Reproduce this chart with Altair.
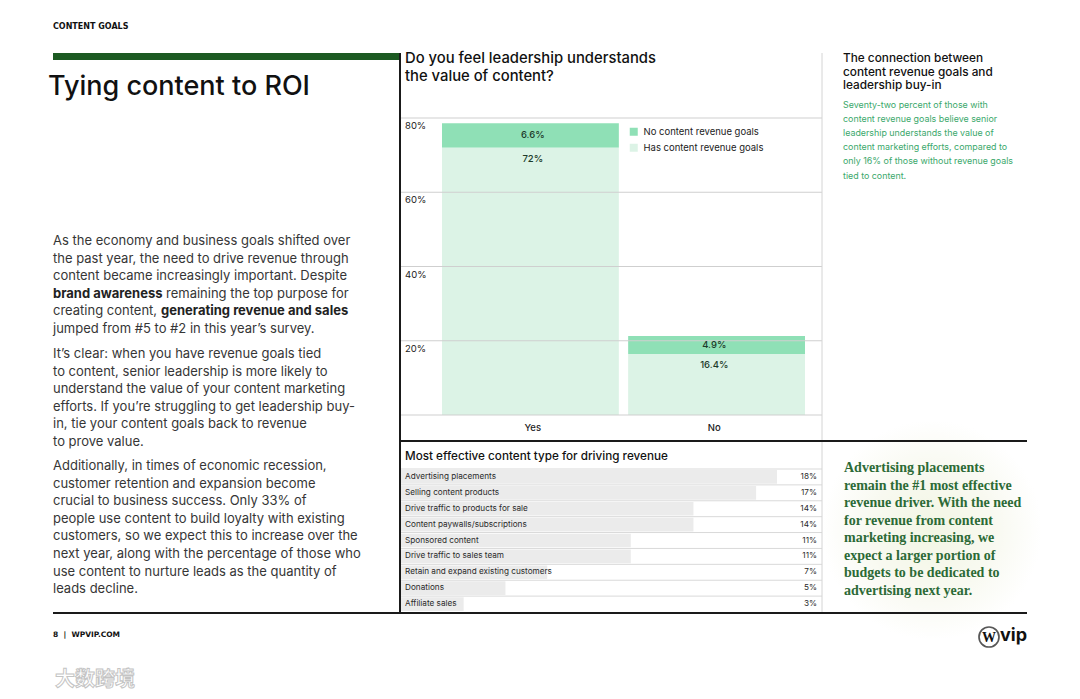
import altair as alt
import pandas as pd

# ---------------- data ----------------
SECTION = "CONTENT GOALS"
TITLE = "Tying content to ROI"

P1 = [
    "As the economy and business goals shifted over",
    "the past year, the need to drive revenue through",
    "content became increasingly important. Despite",
    "brand awareness remaining the top purpose for",
    "creating content, generating revenue and sales",
    "jumped from #5 to #2 in this year’s survey.",
]
BOLD = ["brand awareness", "generating revenue and sales"]
P2 = [
    "It’s clear: when you have revenue goals tied",
    "to content, senior leadership is more likely to",
    "understand the value of your content marketing",
    "efforts. If you’re struggling to get leadership buy-",
    "in, tie your content goals back to revenue",
    "to prove value.",
]
P3 = [
    "Additionally, in times of economic recession,",
    "customer retention and expansion become",
    "crucial to business success. Only 33% of",
    "people use content to build loyalty with existing",
    "customers, so we expect this to increase over the",
    "next year, along with the percentage of those who",
    "use content to nurture leads as the quantity of",
    "leads decline.",
]

Q_TITLE = ["Do you feel leadership understands", "the value of content?"]
ANSWERS = ["Yes", "No"]
GROUPS = ["No content revenue goals", "Has content revenue goals"]
NO_GOALS = [6.6, 4.9]
HAS_GOALS = [72, 16.4]
TICKS = [0, 20, 40, 60, 80]

SIDE_TITLE = ["The connection between", "content revenue goals and", "leadership buy-in"]
SIDE_TEXT = [
    "Seventy-two percent of those with",
    "content revenue goals believe senior",
    "leadership understands the value of",
    "content marketing efforts, compared to",
    "only 16% of those without revenue goals",
    "tied to content.",
]

HB_TITLE = "Most effective content type for driving revenue"
CATS = [
    "Advertising placements",
    "Selling content products",
    "Drive traffic to products for sale",
    "Content paywalls/subscriptions",
    "Sponsored content",
    "Drive traffic to sales team",
    "Retain and expand existing customers",
    "Donations",
    "Affiliate sales",
]
SHARES = [18, 17, 14, 14, 11, 11, 7, 5, 3]

CALLOUT = [
    "Advertising placements",
    "remain the #1 most effective",
    "revenue driver. With the need",
    "for revenue from content",
    "marketing increasing, we",
    "expect a larger portion of",
    "budgets to be dedicated to",
    "advertising next year.",
]
FOOTER = "8\u00a0\u00a0|\u00a0\u00a0WPVIP.COM"
LOGO_MARK = "W"
LOGO_TEXT = "vip"
WATERMARK = "大数跨境"

# ---------------- styles ----------------
SANS = "Inter"
SERIF = "Liberation Serif"
DARK = "#8fe0b6"
LIGHT = "#dcf3e6"
BODY = "#363636"
GREEN_TXT = "#3aa86b"
CALLOUT_C = "#2c6a36"

one = pd.DataFrame({"k": [0]})


def block(lines, x, y0, lh, size, color, weight="normal", font=SANS, align="left"):
    df = pd.DataFrame({"t": lines, "y": [y0 + i * lh for i in range(len(lines))]})
    return alt.Chart(df).mark_text(
        align=align, baseline="middle", font=font, fontSize=size,
        fontWeight=weight, color=color
    ).encode(x=alt.value(x), y=alt.Y("y:Q", scale=None, axis=None), text="t:N")


def label(txt, x, y, size, color, weight="normal", font=SANS, align="left", baseline="middle"):
    return alt.Chart(one).mark_text(
        align=align, baseline=baseline, font=font, fontSize=size,
        fontWeight=weight, color=color
    ).encode(x=alt.value(x), y=alt.value(y), text=alt.value(txt))


def hline(x1, x2, y, color, w):
    return alt.Chart(one).mark_rule(color=color, strokeWidth=w).encode(
        x=alt.value(x1), x2=alt.value(x2), y=alt.value(y))


def vline(x, y1, y2, color, w):
    return alt.Chart(one).mark_rule(color=color, strokeWidth=w).encode(
        x=alt.value(x), y=alt.value(y1), y2=alt.value(y2))


layers = []

# soft glow behind the callout
glow = alt.RadialGradient(
    gradient="radial",
    stops=[alt.GradientStop(offset=0, color="#f2f6e4"),
           alt.GradientStop(offset=0.55, color="#f8f9f0"),
           alt.GradientStop(offset=1, color="#ffffff")],
    x1=0.5, y1=0.5, r1=0, x2=0.5, y2=0.5, r2=0.5,
)
layers.append(alt.Chart(one).mark_point(shape="circle", filled=True, fill=glow,
                                        opacity=1, strokeWidth=0, size=220 * 220)
              .encode(x=alt.value(924), y=alt.value(522)))

# ---------- header & left column ----------
layers.append(label(SECTION, 45, 19, 8, "#111", weight="bold", font="DejaVu Sans"))
layers.append(alt.Chart(one).mark_rect(color="#1c5a22").encode(
    x=alt.value(45), x2=alt.value(392), y=alt.value(45), y2=alt.value(52)))
layers.append(label(TITLE, 40, 87, 27, "#111", weight=500, baseline="alphabetic"))

LH = 17.6
plain = [l if not any(b in l for b in BOLD) else "" for l in P1]
layers.append(block(plain, 45, 233, LH, 13, BODY))
# mixed-weight lines
b0 = BOLD[0]
i0 = next(i for i, l in enumerate(P1) if b0 in l)
layers.append(label(b0, 45, 233 + i0 * LH, 13, "#222", weight="bold"))
layers.append(label(P1[i0].replace(b0, "").strip(), 158, 233 + i0 * LH, 13, BODY))
b1 = BOLD[1]
i1 = next(i for i, l in enumerate(P1) if b1 in l)
layers.append(label(P1[i1].replace(b1, "").strip(), 45, 233 + i1 * LH, 13, BODY))
layers.append(label(b1, 153, 233 + i1 * LH, 13, "#222", weight="bold"))
layers.append(block(P2, 45, 346, LH, 13, BODY))
layers.append(block(P3, 45, 458, LH, 13, BODY))

# ---------- Yes / No stacked bars ----------
yn = pd.DataFrame({
    "answer": ANSWERS * 2,
    "group": [GROUPS[0]] * 2 + [GROUPS[1]] * 2,
    "value": NO_GOALS + HAS_GOALS,
})
xs = alt.Scale(domain=ANSWERS, range=[434, 797], paddingInner=0.05, paddingOuter=0)
ys = alt.Scale(domain=[0, 80], range=[407, 110], nice=False)

layers.append(alt.Chart(yn).mark_bar(strokeWidth=0).encode(
    x=alt.X("answer:N", scale=xs, axis=None),
    y=alt.Y("value:Q", scale=ys, axis=None, stack="zero"),
    color=alt.Color("group:N", scale=alt.Scale(domain=GROUPS, range=[DARK, LIGHT]),
                    legend=alt.Legend(orient="none", legendX=621, legendY=119, title=None,
                                      symbolType="square", symbolSize=64, symbolStrokeWidth=0,
                                      labelFont=SANS, labelFontSize=9.5, labelColor="#222",
                                      rowPadding=5, labelOffset=5, padding=0)),
    order=alt.Order("group:N", sort="ascending"),
))

ticks = pd.DataFrame({"t": TICKS})
layers.append(alt.Chart(ticks).mark_rule(color="#cfcfcf", strokeWidth=1).encode(
    y=alt.Y("t:Q", scale=ys, axis=None), x=alt.value(392), x2=alt.value(814)))
layers.append(alt.Chart(ticks).transform_filter("datum.t > 0")
              .transform_calculate(lab="datum.t + '%'")
              .mark_text(align="left", baseline="middle", dy=8, font=SANS, fontSize=9.5, color="#222")
              .encode(y=alt.Y("t:Q", scale=ys, axis=None), x=alt.value(397), text="lab:N"))

lab_df = pd.DataFrame({
    "answer": ANSWERS,
    "no": NO_GOALS,
    "has": HAS_GOALS,
})
layers.append(alt.Chart(lab_df).transform_calculate(
    mid="datum.has + datum.no / 2", lab="datum.no + '%'"
).mark_text(baseline="middle", font=SANS, fontSize=9.5, fontWeight=500, color="#1d3b2a").encode(
    x=alt.X("answer:N", scale=xs, axis=None),
    y=alt.Y("mid:Q", scale=ys, axis=None), text="lab:N"))
layers.append(alt.Chart(lab_df).transform_calculate(lab="datum.has + '%'")
              .mark_text(baseline="middle", dy=11, font=SANS, fontSize=9.5, fontWeight=500, color="#1d3b2a")
              .encode(x=alt.X("answer:N", scale=xs, axis=None),
                      y=alt.Y("has:Q", scale=ys, axis=None), text="lab:N"))
layers.append(alt.Chart(lab_df).mark_text(baseline="middle", font=SANS, fontSize=9.5,
                                          fontWeight=500, color="#222")
              .encode(x=alt.X("answer:N", scale=xs, axis=None), y=alt.value(420), text="answer:N"))

layers.append(block(Q_TITLE, 397, 51, 18, 14.8, "#111", weight=500))

# ---------- right column top ----------
layers.append(block(SIDE_TITLE, 835, 50, 13.6, 11.8, "#111", weight=500))
layers.append(block(SIDE_TEXT, 835, 97, 14.1, 8.9, GREEN_TXT))

# ---------- horizontal bars ----------
hb = pd.DataFrame({"c": CATS, "v": SHARES})
hx = alt.Scale(domain=[0, 18], range=[393, 769])
hy_bar = alt.Scale(domain=CATS, range=[461, 604], paddingInner=0.14, paddingOuter=0.07)
hy = alt.Scale(domain=CATS, range=[461, 604], paddingInner=0, paddingOuter=0)

layers.append(alt.Chart(hb).mark_bar(color="#ebebeb", strokeWidth=0).encode(
    x=alt.X("v:Q", scale=hx, axis=None), y=alt.Y("c:N", scale=hy_bar, axis=None)))
layers.append(alt.Chart(hb).mark_rule(color="#d9d9d9", strokeWidth=1).encode(
    y=alt.Y("c:N", scale=hy, axis=None, bandPosition=0), x=alt.value(392), x2=alt.value(814)))
layers.append(alt.Chart(hb).mark_text(align="left", baseline="middle", font=SANS, fontSize=8.2,
                                      color="#2a2a2a").encode(
    y=alt.Y("c:N", scale=hy, axis=None), x=alt.value(397), text="c:N"))
layers.append(alt.Chart(hb).transform_calculate(lab="datum.v + '%'")
              .mark_text(align="right", baseline="middle", font=SANS, fontSize=8.2, color="#2a2a2a")
              .encode(y=alt.Y("c:N", scale=hy, axis=None), x=alt.value(809), text="lab:N"))
layers.append(label(HB_TITLE, 397, 448, 11.7, "#111", weight=500))

# ---------- callout ----------
layers.append(block(CALLOUT, 836, 460, 17.55, 14, CALLOUT_C, weight="bold", font=SERIF))

# ---------- frame lines ----------
layers.append(vline(814, 45, 605, "#d4d4d4", 1))
layers.append(vline(392, 45, 605, "#1a1a1a", 2))
layers.append(hline(392, 1019, 433, "#1a1a1a", 2))
layers.append(hline(45, 1019, 605, "#1a1a1a", 2))

# ---------- footer ----------
layers.append(label(FOOTER, 45, 627, 7.5, "#111", weight="bold", font="DejaVu Sans"))
layers.append(alt.Chart(one).mark_point(shape="circle", filled=False, color="#111",
                                        strokeWidth=1.7, size=400)
              .encode(x=alt.value(981), y=alt.value(629)))
layers.append(label(LOGO_MARK, 981, 629.5, 14, "#111", weight="bold", font=SERIF, align="center"))
layers.append(label(LOGO_TEXT, 992, 628, 18, "#111", weight="bold"))
layers.append(alt.Chart(one).mark_text(align="left", baseline="middle", font="Noto Sans CJK SC",
                                       fontSize=20, fill="#ffffff", stroke="#c4c4c4",
                                       strokeWidth=1, fontWeight="bold")
              .encode(x=alt.value(47), y=alt.value(672), text=alt.value(WATERMARK)))

chart = alt.layer(*layers).resolve_scale(
    x="independent", y="independent", color="independent"
).properties(
    width=1064, height=683, padding=0,
    autosize=alt.AutoSizeParams(type="none"),
    background="#ffffff",
).configure_view(stroke=None)

chart.save("out.html", embed_options={"renderer": "svg", "actions": False})
